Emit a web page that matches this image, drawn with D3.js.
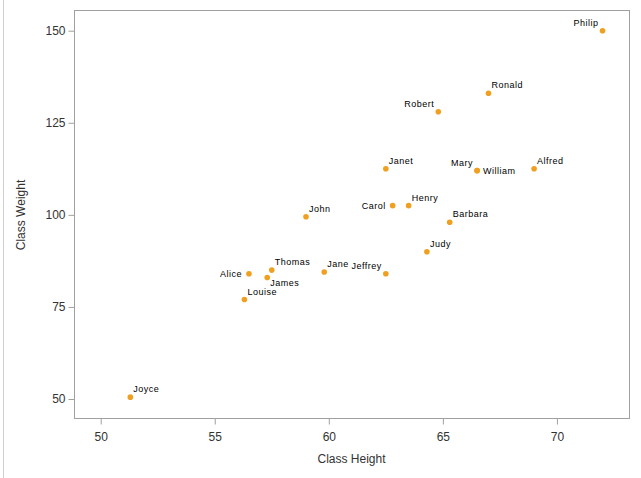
<!DOCTYPE html>
<html>
<head>
<meta charset="utf-8">
<script src="https://cdn.jsdelivr.net/npm/d3@7"></script>
<style>
  body { margin: 0; background: #fff; }
  text { font-family: "Liberation Sans", Arial, sans-serif; }
</style>
</head>
<body>
<svg id="chart" width="641" height="478"></svg>
<script>
// SASHELP.CLASS
const names   = ["Alfred","Alice","Barbara","Carol","Henry","James","Jane","Janet","Jeffrey","John",
                 "Joyce","Judy","Louise","Mary","Philip","Robert","Ronald","Thomas","William"];
const heights = [69.0, 56.5, 65.3, 62.8, 63.5, 57.3, 59.8, 62.5, 62.5, 59.0,
                 51.3, 64.3, 56.3, 66.5, 72.0, 64.8, 67.0, 57.5, 66.5];
const weights = [112.5, 84.0, 98.0, 102.5, 102.5, 83.0, 84.5, 112.5, 84.0, 99.5,
                 50.5, 90.0, 77.0, 112.0, 150.0, 128.0, 133.0, 85.0, 112.0];
// label placement: tr = top right, tl = top left, l = left, r = right, br = bottom right
const labelPos = ["tr","l","tr","l","tr","br","tr","tr","tl","tr",
                  "tr","tr","tr","tl","tl","tl","tr","tr","r"];
const xTicks = [50, 55, 60, 65, 70];
const yTicks = [50, 75, 100, 125, 150];

const svg = d3.select("#chart");
const margin = { left: 74, top: 11, right: 629, bottom: 419 };

const x = d3.scaleLinear().domain([48.83, 73.16]).range([margin.left, margin.right]);
const y = d3.scaleLinear().domain([44.57, 155.35]).range([margin.bottom, margin.top]);

// faint line on the left edge
svg.append("line")
  .attr("x1", 3.5).attr("x2", 3.5).attr("y1", 0).attr("y2", 478)
  .attr("stroke", "#d0d0d0");

// frame
svg.append("rect")
  .attr("x", margin.left + 0.5).attr("y", margin.top - 0.5)
  .attr("width", margin.right - margin.left).attr("height", margin.bottom - margin.top)
  .attr("fill", "none").attr("stroke", "#a0a0a0");

const xAxis = svg.append("g")
  .attr("transform", "translate(0," + (margin.bottom - 0.5) + ")")
  .call(d3.axisBottom(x).tickValues(xTicks).tickSize(6).tickSizeOuter(0));
const yAxis = svg.append("g")
  .attr("transform", "translate(" + (margin.left + 0.5) + ",0)")
  .call(d3.axisLeft(y).tickValues(yTicks).tickSize(6).tickSizeOuter(0));

[xAxis, yAxis].forEach((g) => {
  g.select(".domain").remove();
  g.selectAll(".tick line").attr("stroke", "#a0a0a0");
  g.selectAll(".tick text")
    .attr("fill", "#333")
    .style("font-size", "12px")
    .style("font-family", "'Liberation Sans', Arial, sans-serif");
});
xAxis.selectAll(".tick text").attr("dy", "1.15em");
yAxis.selectAll(".tick text").attr("x", -9);

svg.append("text")
  .attr("x", (margin.left + margin.right) / 2).attr("y", 463)
  .attr("text-anchor", "middle")
  .attr("fill", "#333").style("font-size", "12px")
  .text("Class Height");

svg.append("text")
  .attr("transform", "translate(25," + ((margin.top + margin.bottom) / 2) + ") rotate(-90)")
  .attr("text-anchor", "middle")
  .attr("fill", "#333").style("font-size", "12px")
  .text("Class Weight");

const data = names.map((n, i) => ({ name: n, h: heights[i], w: weights[i], pos: labelPos[i] }));

svg.append("g").selectAll("circle")
  .data(data)
  .enter()
  .append("circle")
  .attr("cx", (d) => x(d.h))
  .attr("cy", (d) => y(d.w))
  .attr("r", 2.8)
  .attr("fill", "#f0a020");

svg.append("g").selectAll("text")
  .data(data)
  .enter()
  .append("text")
  .attr("x", (d) => {
    const px = x(d.h);
    if (d.pos === "tr" || d.pos === "br") return px + 3;
    if (d.pos === "r") return px + 6;
    if (d.pos === "tl") return px - 4;
    return px - 7;
  })
  .attr("y", (d) => {
    const py = y(d.w);
    if (d.pos === "tr" || d.pos === "tl") return py - 5;
    if (d.pos === "br") return py + 9;
    return py + 3;
  })
  .attr("text-anchor", (d) => (d.pos === "tl" || d.pos === "l") ? "end" : "start")
  .attr("fill", "#000")
  .style("font-size", "9px")
  .style("letter-spacing", "0.5px")
  .text((d) => d.name);
</script>
</body>
</html>
